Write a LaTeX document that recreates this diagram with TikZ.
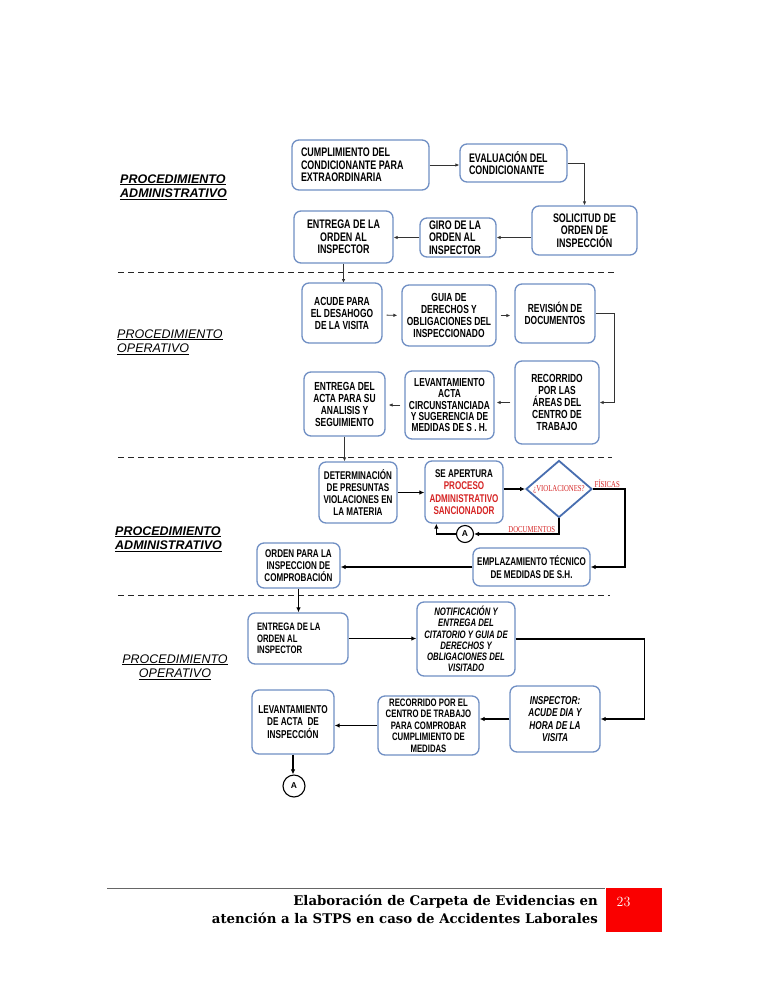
\documentclass[tikz,border=0pt]{standalone}
\usepackage{fontspec}
\usepackage{xcolor}
\usetikzlibrary{
    arrows.meta,
    shapes.geometric,
    positioning
}
\newfontfamily\boxfont{Liberation Sans}[FakeStretch=0.72]
\newfontfamily\labfont{Liberation Sans}
\newfontfamily\redfont{Liberation Serif}[FakeStretch=0.75]
\newfontfamily\footfont{DejaVu Serif}
\definecolor{boxline}{RGB}{112,143,196}
\definecolor{diamline}{RGB}{72,110,176}
\definecolor{redtxt}{RGB}{214,36,36}
\definecolor{pagered}{RGB}{250,0,0}

\tikzset{
    box/.style={draw=boxline, line width=1.3pt, rounded corners=7pt, fill=white, align=center, inner sep=2pt},
    boxA/.style={box, font=\boxfont\bfseries\fontsize{12.4}{12.3}\selectfont},
    boxB/.style={box, font=\boxfont\bfseries\fontsize{11.7}{12}\selectfont},
    boxC/.style={box, font=\boxfont\bfseries\fontsize{11.2}{12.3}\selectfont},
    boxD/.style={box, font=\boxfont\bfseries\fontsize{10.8}{11.4}\selectfont},
    boxDi/.style={box, font=\boxfont\bfseries\itshape\fontsize{10.8}{11.3}\selectfont},
    leftbox/.style={align=flush left, inner xsep=9pt},
    decision/.style={diamond, draw=diamline, line width=1.8pt, fill=white, inner sep=0pt, aspect=1.15,
        font=\redfont\fontsize{9}{10}\selectfont, text=redtxt},
    redlab/.style={font=\redfont\fontsize{9}{10}\selectfont, text=redtxt, inner sep=1pt},
    connector/.style={circle, draw, line width=1.1pt, fill=white, inner sep=0pt, font=\labfont\bfseries\fontsize{8.5}{9}\selectfont},
    arrA/.style={-{Latex[length=4pt,width=3.5pt]}, line width=0.8pt, black!80},
    arrB/.style={-{Latex[length=5pt,width=4.5pt]}, line width=1.4pt},
    sepline/.style={dash pattern=on 6pt off 4pt, line width=1pt, black!85},
    seclab/.style={font=\labfont\itshape\fontsize{12.5}{14.5}\selectfont, inner sep=0pt},
    foot/.style={font=\footfont\bfseries\fontsize{13.3}{17.3}\selectfont, align=right, inner sep=0pt}
}

\begin{document}
\begin{tikzpicture}[x=1pt, y=-1pt]
    \useasboundingbox[fill=white] (0,0) rectangle (768,994);

    % section labels
    \node[seclab, font=\labfont\bfseries\itshape\fontsize{12.5}{14.5}\selectfont, align=left, anchor=west] (labadm1) at (120,187)
        {\underline{PROCEDIMIENTO}\\\underline{ADMINISTRATIVO}};
    \node[seclab, align=left, anchor=west] (labop1) at (117,342)
        {\underline{PROCEDIMIENTO}\\\underline{OPERATIVO}};
    \node[seclab, font=\labfont\bfseries\itshape\fontsize{12.5}{14.5}\selectfont, align=left, anchor=west] (labadm2) at (115,539)
        {\underline{PROCEDIMIENTO}\\\underline{ADMINISTRATIVO}};
    \node[seclab, align=center] (labop2) at (175,667)
        {\underline{PROCEDIMIENTO}\\\underline{OPERATIVO}};

    % separators
    \draw[sepline] (118,272) -- (614,272);
    \draw[sepline] (118,457) -- (612,457);
    \draw[sepline] (118,595) -- (610,595);

    % administrative 1
    \node[boxA, leftbox, text width=119pt, minimum height=50pt] (cumpl) at (360.5,165)
        {CUMPLIMIENTO DEL\\CONDICIONANTE PARA\\EXTRAORDINARIA};
    \node[boxA, leftbox, text width=89pt, minimum height=38pt] (eval) at (513.5,163)
        {EVALUACIÓN DEL\\CONDICIONANTE};
    \node[boxA, minimum width=105pt, minimum height=49pt] (solic) at (584.5,230.5)
        {SOLICITUD DE\\ORDEN DE\\INSPECCIÓN};
    \node[boxA, leftbox, text width=58pt, minimum height=39pt] (giro) at (458,237.5)
        {GIRO DE LA\\ORDEN AL\\INSPECTOR};
    \node[boxA, minimum width=99pt, minimum height=52pt] (entr1) at (343.5,237)
        {ENTREGA DE LA\\ORDEN AL\\INSPECTOR};

    \draw[arrA] (cumpl.east) -- (cumpl.east -| eval.west);
    \draw[arrA] (eval.east) -| (solic.north);
    \draw[arrA] (giro.east -| solic.west) -- (giro.east);
    \draw[arrA] (giro.west) -- (giro.west -| entr1.east);
    \draw[arrA] (entr1.south) -- (entr1.south |- 0,283);

    % operative 1
    \node[boxB, minimum width=80pt, minimum height=60pt] (acude) at (342,313)
        {ACUDE PARA\\EL DESAHOGO\\DE LA VISITA};
    \node[boxB, minimum width=94pt, minimum height=61pt] (guia) at (449,315.5)
        {GUIA DE\\DERECHOS Y\\OBLIGACIONES DEL\\INSPECCIONADO};
    \node[boxB, minimum width=80pt, minimum height=59pt] (revis) at (555,313.5)
        {REVISIÓN DE\\DOCUMENTOS};
    \node[boxB, minimum width=84pt, minimum height=83pt] (recor) at (557,402.5)
        {RECORRIDO\\POR LAS\\ÁREAS DEL\\CENTRO DE\\TRABAJO};
    \node[boxB, minimum width=89pt, minimum height=68pt, font=\boxfont\bfseries\fontsize{11.6}{11.4}\selectfont] (levan) at (449.5,405)
        {LEVANTAMIENTO\\ACTA\\CIRCUNSTANCIADA\\Y SUGERENCIA DE\\MEDIDAS DE S . H.};
    \node[boxB, minimum width=81pt, minimum height=64pt] (entacta) at (344.5,404)
        {ENTREGA DEL\\ACTA PARA SU\\ANALISIS Y\\SEGUIMIENTO};

    \draw[arrA, shorten <=4pt, shorten >=4pt] (acude.east |- 0,315) -- (guia.west);
    \draw[arrA, shorten <=4pt, shorten >=4pt] (guia.east) -- (guia.east -| revis.west);
    \draw[arrA] (revis.east) -- ++(19,0) |- (recor.east);
    \draw[arrA, shorten <=4pt, shorten >=2pt] (recor.west) -- (recor.west -| levan.east);
    \draw[arrA, shorten <=4pt, shorten >=3pt] (levan.west) -- (levan.west -| entacta.east);

    % administrative 2
    \node[boxC, minimum width=78pt, minimum height=61pt] (determ) at (358,492.5)
        {DETERMINACIÓN\\DE PRESUNTAS\\VIOLACIONES EN\\LA MATERIA};
    \node[boxC, minimum width=78pt, minimum height=62pt] (apert) at (464,492)
        {SE APERTURA\\\textcolor{redtxt}{PROCESO}\\\textcolor{redtxt}{ADMINISTRATIVO}\\\textcolor{redtxt}{SANCIONADOR}};
    \node[decision, minimum width=66pt, minimum height=57pt] (viol) at (559,489) {¿VIOLACIONES?};
    \node[connector, minimum size=17pt] (conA1) at (465,534) {A};
    \node[boxC, minimum width=117pt, minimum height=38pt] (emplaz) at (531.5,567)
        {EMPLAZAMIENTO TÉCNICO\\DE MEDIDAS DE S.H.};
    \node[boxC, minimum width=83pt, minimum height=45pt] (orden) at (298.5,565.5)
        {ORDEN PARA LA\\INSPECCION DE\\COMPROBACIÓN};

    \draw[arrA] (entacta.south) -- (entacta.south |- determ.north);
    \draw[arrB] (determ.east) -- (determ.east -| apert.west);
    \draw[arrB] (apert.east |- viol.west) -- (viol.west);
    \draw[arrB] (viol.east) -- ++(32,0) node[redlab, above, pos=0.45] {FÍSICAS} |- (emplaz.east);
    \draw[arrB] (viol.south) |- node[redlab, above, pos=0.66] {DOCUMENTOS} (conA1.east);
    \draw[arrB] (conA1.west) -| ([xshift=12pt]apert.south west);
    \draw[arrB] (emplaz.west) -- (emplaz.west -| orden.east);

    % operative 2
    \node[boxD, leftbox, text width=82pt, minimum height=51pt] (entr2) at (298,638.5)
        {ENTREGA DE LA\\ORDEN AL\\INSPECTOR};
    \node[boxDi, minimum width=98pt, minimum height=74pt] (notif) at (466,639)
        {NOTIFICACIÓN Y\\ENTREGA DEL\\CITATORIO Y GUIA DE\\DERECHOS Y\\OBLIGACIONES DEL\\VISITADO};
    \node[boxDi, minimum width=90pt, minimum height=66pt, font=\boxfont\bfseries\itshape\fontsize{11.4}{12.3}\selectfont] (insp) at (555,719)
        {INSPECTOR:\\ACUDE DIA Y\\HORA DE LA\\VISITA};
    \node[boxD, minimum width=101pt, minimum height=59pt] (recor2) at (428.5,725.5)
        {RECORRIDO POR EL\\CENTRO DE TRABAJO\\PARA COMPROBAR\\CUMPLIMIENTO DE\\MEDIDAS};
    \node[boxD, minimum width=82pt, minimum height=64pt, font=\boxfont\bfseries\fontsize{11.4}{12.3}\selectfont] (levan2) at (293,722)
        {LEVANTAMIENTO\\DE ACTA\ \ DE\\INSPECCIÓN};
    \node[connector, minimum size=22pt] (conA2) at (294,786) {A};

    \draw[arrB] (orden.south) -- (orden.south |- entr2.north);
    \draw[arrB] (entr2.east) -- (entr2.east -| notif.west);
    \draw[arrB] (notif.east) -- ++(129,0) |- (insp.east);
    \draw[arrB] (insp.west) -- (insp.west -| recor2.east);
    \draw[arrB] (recor2.west) -- (recor2.west -| levan2.east);
    \draw[arrB] (levan2.south) -- (levan2.south |- conA2.north);

    % page footer
    \draw[black!60, line width=0.8pt] (107,888) -- (605,888);
    \fill[pagered] (606,888) rectangle (662,932);
    \node[font=\fontsize{14}{16}\selectfont, text=white, inner sep=0pt] (pagenum) at (623.5,902) {23};
    \node[foot, anchor=north east] (foottxt) at (598,895)
        {Elaboración de Carpeta de Evidencias en\\atención a la STPS en caso de Accidentes Laborales};
\end{tikzpicture}
\end{document}
